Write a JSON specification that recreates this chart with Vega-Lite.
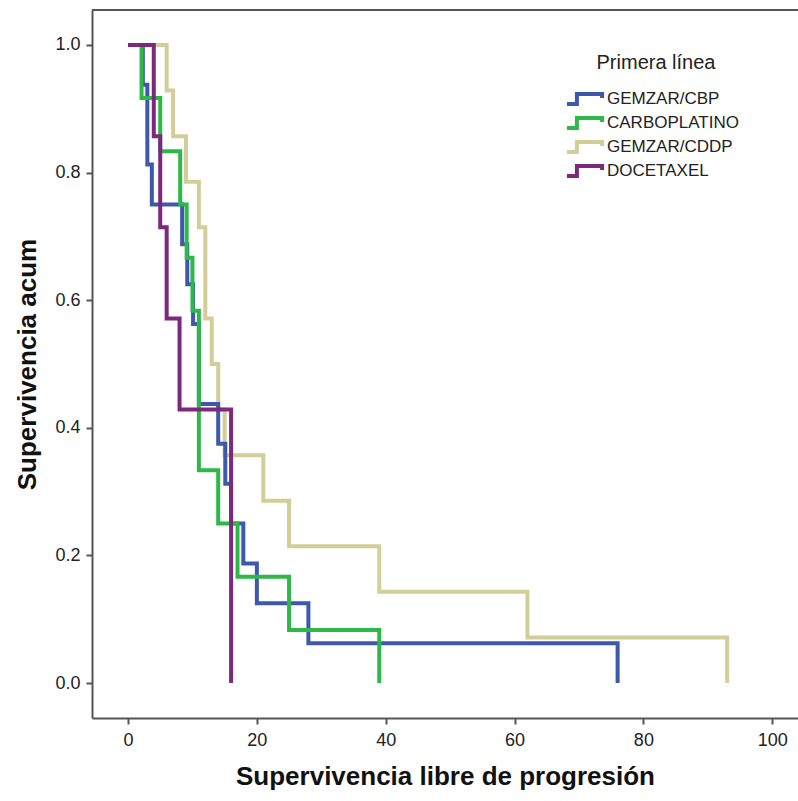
{
  "$schema": "https://vega.github.io/schema/vega-lite/v6.json",
  "width": 706,
  "height": 708,
  "autosize": "none",
  "padding": {"left": 92, "top": 10, "right": 0, "bottom": 83},
  "background": "white",
  "config": {
    "view": {"stroke": null},
    "font": "Liberation Sans",
    "axis": {
      "domainColor": "#555555",
      "domainWidth": 2,
      "tickColor": "#555555",
      "tickWidth": 2,
      "tickSize": 6,
      "grid": false,
      "labelFont": "Liberation Sans",
      "labelFontSize": 18,
      "labelColor": "#222222",
      "titleFont": "Liberation Sans",
      "titleFontSize": 26,
      "titleFontWeight": "bold",
      "titleColor": "#111111"
    }
  },
  "data": {
    "values": [
      {"linea": "GEMZAR/CDDP", "t": 0, "s": 1},
      {"linea": "GEMZAR/CDDP", "t": 6, "s": 0.9286},
      {"linea": "GEMZAR/CDDP", "t": 7, "s": 0.8571},
      {"linea": "GEMZAR/CDDP", "t": 9, "s": 0.7857},
      {"linea": "GEMZAR/CDDP", "t": 11, "s": 0.7143},
      {"linea": "GEMZAR/CDDP", "t": 12, "s": 0.5714},
      {"linea": "GEMZAR/CDDP", "t": 13, "s": 0.5},
      {"linea": "GEMZAR/CDDP", "t": 14, "s": 0.4286},
      {"linea": "GEMZAR/CDDP", "t": 15, "s": 0.3571},
      {"linea": "GEMZAR/CDDP", "t": 21, "s": 0.2857},
      {"linea": "GEMZAR/CDDP", "t": 25, "s": 0.2143},
      {"linea": "GEMZAR/CDDP", "t": 39, "s": 0.1429},
      {"linea": "GEMZAR/CDDP", "t": 62, "s": 0.0714},
      {"linea": "GEMZAR/CDDP", "t": 93, "s": 0},
      {"linea": "GEMZAR/CBP", "t": 0, "s": 1},
      {"linea": "GEMZAR/CBP", "t": 2.3, "s": 0.9375},
      {"linea": "GEMZAR/CBP", "t": 3, "s": 0.8125},
      {"linea": "GEMZAR/CBP", "t": 3.7, "s": 0.75},
      {"linea": "GEMZAR/CBP", "t": 8.4, "s": 0.6875},
      {"linea": "GEMZAR/CBP", "t": 9.2, "s": 0.625},
      {"linea": "GEMZAR/CBP", "t": 10.1, "s": 0.5625},
      {"linea": "GEMZAR/CBP", "t": 11, "s": 0.4375},
      {"linea": "GEMZAR/CBP", "t": 14, "s": 0.375},
      {"linea": "GEMZAR/CBP", "t": 15.1, "s": 0.3125},
      {"linea": "GEMZAR/CBP", "t": 16, "s": 0.25},
      {"linea": "GEMZAR/CBP", "t": 17.9, "s": 0.1875},
      {"linea": "GEMZAR/CBP", "t": 20, "s": 0.125},
      {"linea": "GEMZAR/CBP", "t": 28, "s": 0.0625},
      {"linea": "GEMZAR/CBP", "t": 76, "s": 0},
      {"linea": "CARBOPLATINO", "t": 0, "s": 1},
      {"linea": "CARBOPLATINO", "t": 2.1, "s": 0.9167},
      {"linea": "CARBOPLATINO", "t": 5, "s": 0.8333},
      {"linea": "CARBOPLATINO", "t": 8.1, "s": 0.75},
      {"linea": "CARBOPLATINO", "t": 9.1, "s": 0.6667},
      {"linea": "CARBOPLATINO", "t": 10, "s": 0.5833},
      {"linea": "CARBOPLATINO", "t": 11, "s": 0.3333},
      {"linea": "CARBOPLATINO", "t": 14, "s": 0.25},
      {"linea": "CARBOPLATINO", "t": 17, "s": 0.1667},
      {"linea": "CARBOPLATINO", "t": 25, "s": 0.0833},
      {"linea": "CARBOPLATINO", "t": 39, "s": 0},
      {"linea": "DOCETAXEL", "t": 0, "s": 1},
      {"linea": "DOCETAXEL", "t": 4, "s": 0.8571},
      {"linea": "DOCETAXEL", "t": 5, "s": 0.7143},
      {"linea": "DOCETAXEL", "t": 6, "s": 0.5714},
      {"linea": "DOCETAXEL", "t": 8, "s": 0.4286},
      {"linea": "DOCETAXEL", "t": 16, "s": 0}
    ]
  },
  "layer": [
    {
      "mark": {"type": "line", "interpolate": "step-after", "strokeWidth": 4, "strokeJoin": "miter", "strokeCap": "butt"},
      "encoding": {
        "x": {
          "field": "t", "type": "quantitative",
          "scale": {"domain": [-5.59, 104.0], "nice": false, "zero": false},
          "axis": {"values": [0, 20, 40, 60, 80, 100], "title": "Supervivencia libre de progresión", "labelPadding": 7, "titlePadding": 14}
        },
        "y": {
          "field": "s", "type": "quantitative",
          "scale": {"domain": [-0.0548, 1.0548], "nice": false, "zero": false},
          "axis": {"values": [0, 0.2, 0.4, 0.6, 0.8, 1.0], "format": ".1f", "title": "Supervivencia acum", "labelPadding": 6, "titlePadding": 14}
        },
        "color": {
          "field": "linea", "type": "nominal",
          "scale": {
            "domain": ["GEMZAR/CBP", "CARBOPLATINO", "GEMZAR/CDDP", "DOCETAXEL"],
            "range": ["#3E58AC", "#2EB848", "#D3CE97", "#7C287D"]
          },
          "legend": {
            "title": "Primera línea",
            "orient": "none",
            "legendX": 482,
            "legendY": 43,
            "titleFontSize": 20,
            "titleFontWeight": "normal",
            "titleColor": "#222222",
            "titleAnchor": "middle",
            "titlePadding": 15,
            "labelFontSize": 17,
            "labelColor": "#222222",
            "labelOffset": 11,
            "symbolType": "M -2 0.55 L -0.9 0.55 L -0.9 -0.55 L 1.9 -0.55 L 1.9 -0.1",
            "symbolSize": 324,
            "symbolStrokeWidth": 4,
            "symbolFillColor": "transparent",
            "rowPadding": -3.3
          }
        }
      }
    },
    {
      "mark": {"type": "rule", "color": "#555555", "strokeWidth": 2},
      "encoding": {"y": {"datum": 1.0548}}
    }
  ]
}
